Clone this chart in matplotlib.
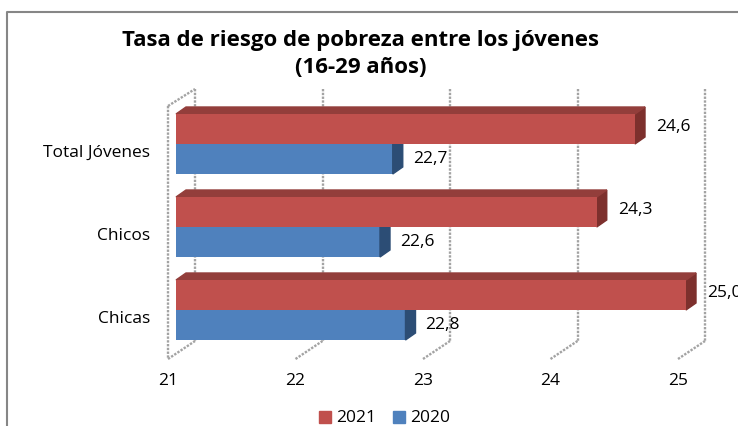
import matplotlib
matplotlib.use('Agg')
import matplotlib.pyplot as plt
from matplotlib.patches import Polygon, Rectangle
from matplotlib.lines import Line2D

plt.rcParams['font.family'] = ['Open Sans', 'DejaVu Sans']

# datos
categorias = ['Chicas', 'Chicos', 'Total Jóvenes']
valores_2021 = [25.0, 24.3, 24.6]
valores_2020 = [22.8, 22.6, 22.7]
ticks_x = [21, 22, 23, 24, 25]
titulo = 'Tasa de riesgo de pobreza entre los jóvenes\n(16-29 años)'

rojo, rojo_arriba, rojo_lado = '#C0504D', '#933E3B', '#7D302D'
azul, azul_lado = '#4F81BD', '#2C4D75'
gris = '#a3a3a3'

W, H = 738, 427
fig = plt.figure(figsize=(W / 100, H / 100), dpi=100)
ax = fig.add_axes([0, 0, 1, 1])

# escala: 21 -> pixel 176, 127.5 px por unidad; categoria 0 -> pixel 311, 83 px por categoria
PX_X, PX_Y = 127.5, 83.0
x0_px, y0_px = 176, 311
ax.set_xlim(21 - x0_px / PX_X, 21 + (W - x0_px) / PX_X)
ax.set_ylim(-(H - y0_px) / PX_Y, y0_px / PX_Y)
ax.axis('off')


def ypx(p):
    return (y0_px - p) / PX_Y


def dx(p):
    return p / PX_X


def dy(p):
    return p / PX_Y


base = 21
h = 30 / PX_Y          # alto de cada barra
px_d, py_d = dx(10), dy(7)   # profundidad de las barras
fs = 12.5

# paredes y lineas de division (fondo)
frente, fondo = dx(-8), dx(19)
lk = dict(color=gris, lw=1.7, ls=(0, (1, 0.6)), zorder=1)
for t in ticks_x:
    ax.add_line(Line2D([t + fondo, t + fondo], [ypx(90), ypx(342)], **lk))
    ax.add_line(Line2D([t + frente, t + fondo], [ypx(360), ypx(342)], **lk))
ax.add_line(Line2D([base + frente, base + frente], [ypx(107), ypx(360)], **lk))
ax.add_line(Line2D([base + frente, base + fondo], [ypx(107), ypx(90)], **lk))

# barras 2020 (azul, abajo) y 2021 (rojo, arriba)
for i, v in enumerate(valores_2020):
    yb = i - h
    ax.barh(yb + h / 2, v - base, height=h, left=base, color=azul, zorder=2)
    ax.add_patch(Polygon([(v, yb), (v, yb + h), (v + px_d, yb + h + py_d), (v + px_d, yb + py_d)],
                         closed=True, color=azul_lado, zorder=2))
    ax.text(v + dx(20), yb + h / 2 + dy(1), f'{v:.1f}'.replace('.', ','),
            ha='left', va='center', fontsize=fs, zorder=5)

for i, v in enumerate(valores_2021):
    yb = i
    ax.add_patch(Polygon([(v, yb), (v, yb + h), (v + px_d, yb + h + py_d), (v + px_d, yb + py_d)],
                         closed=True, color=rojo_lado, zorder=3))
    ax.add_patch(Polygon([(base, yb + h), (v, yb + h), (v + px_d, yb + h + py_d), (base + px_d, yb + h + py_d)],
                         closed=True, color=rojo_arriba, zorder=3))
    ax.barh(yb + h / 2, v - base, height=h, left=base, color=rojo, zorder=4)
    ax.text(v + dx(21), yb + h / 2 + dy(3), f'{v:.1f}'.replace('.', ','),
            ha='left', va='center', fontsize=fs, zorder=5)

# etiquetas de categorias
for i, c in enumerate(categorias):
    ax.text(21 - dx(26), i - dy(8), c, ha='right', va='center', fontsize=fs)

# etiquetas del eje x
for t in ticks_x:
    ax.text(t + frente, ypx(381), str(t), ha='center', va='center', fontsize=fs)

# titulo
fig.text(361 / W, 1 - 54 / H, titulo, ha='center', va='center', fontsize=16,
         fontweight='bold', linespacing=1.4)

# leyenda
leg = [('2021', rojo, 319), ('2020', azul, 393)]
for nombre, col, xp in leg:
    fig.patches.append(Rectangle((xp / W, 1 - 424 / H), 12 / W, 12 / H,
                                 transform=fig.transFigure, color=col))
    fig.text((xp + 17) / W, 1 - 418 / H, nombre, ha='left', va='center', fontsize=fs)

# borde del grafico
fig.add_artist(Line2D([7 / W, 7 / W, 1], [0, 1 - 13 / H, 1 - 13 / H],
                      transform=fig.transFigure, color='#868686', lw=1.5))

fig.savefig('out.png', dpi=100)
